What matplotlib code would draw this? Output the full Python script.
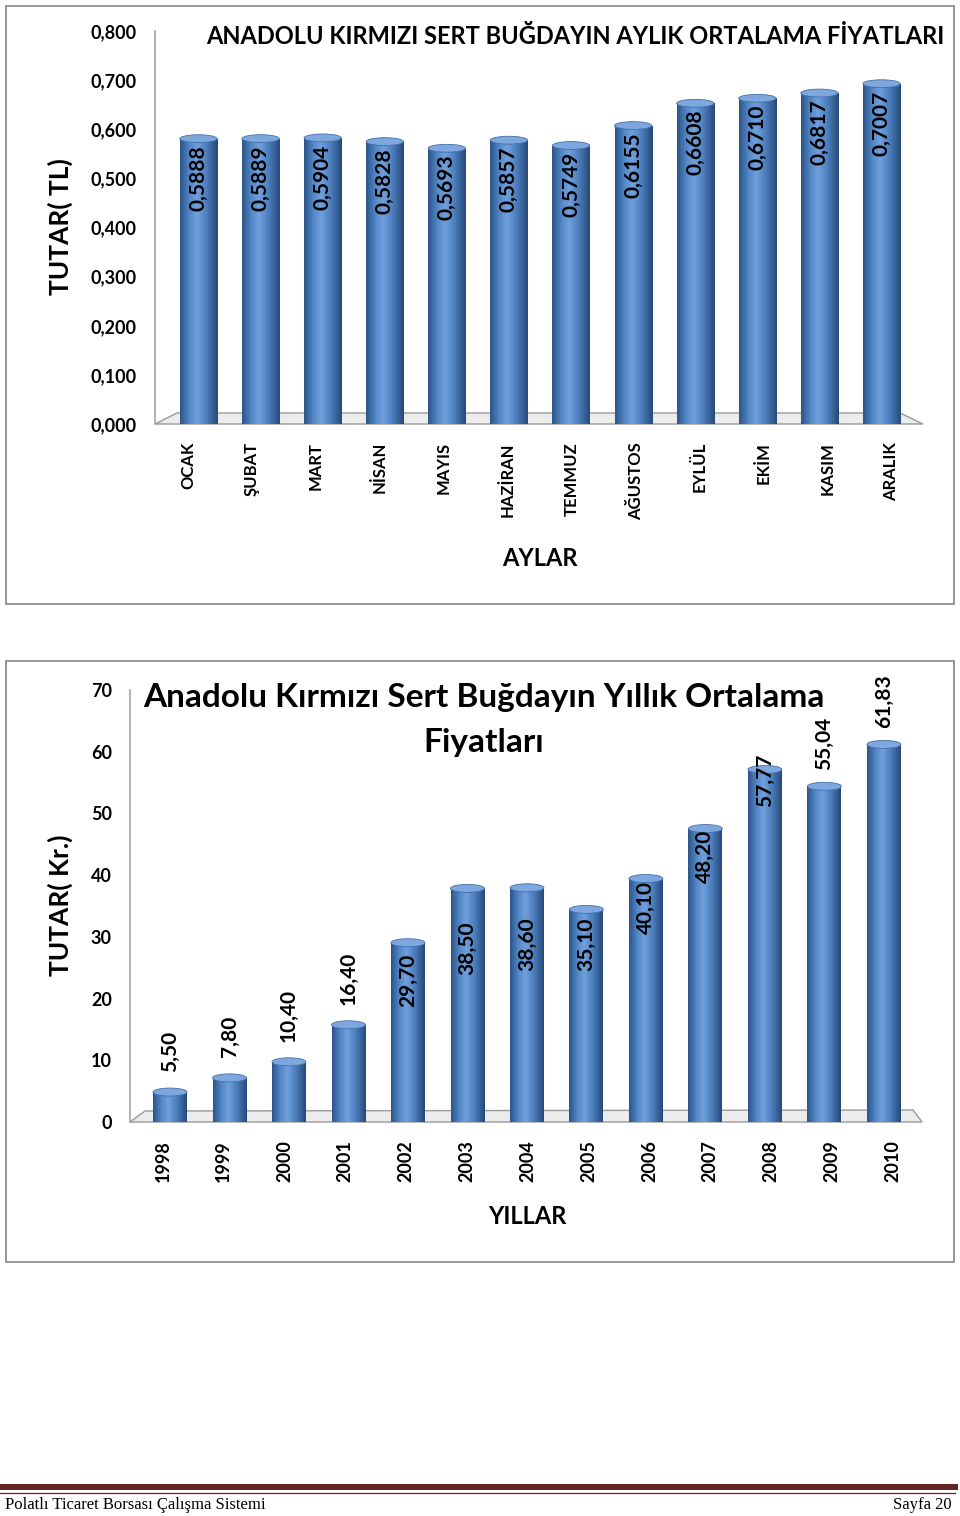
import matplotlib
import numpy as np

matplotlib.use("Agg")
import matplotlib.pyplot as plt
from matplotlib.colors import LinearSegmentedColormap
from matplotlib.lines import Line2D
from matplotlib.patches import Ellipse, Polygon, Rectangle

plt.rcParams["font.family"] = ["Lato", "DejaVu Sans"]

# --- veriler ---
aylar = ["OCAK", "ŞUBAT", "MART", "NİSAN", "MAYIS", "HAZİRAN",
         "TEMMUZ", "AĞUSTOS", "EYLÜL", "EKİM", "KASIM", "ARALIK"]
aylik_fiyat = [0.5888, 0.5889, 0.5904, 0.5828, 0.5693, 0.5857,
               0.5749, 0.6155, 0.6608, 0.6710, 0.6817, 0.7007]

yillar = ["1998", "1999", "2000", "2001", "2002", "2003", "2004",
          "2005", "2006", "2007", "2008", "2009", "2010"]
yillik_fiyat = [5.50, 7.80, 10.40, 16.40, 29.70, 38.50, 38.60,
                35.10, 40.10, 48.20, 57.77, 55.04, 61.83]

# etiketlerin çubuk tepesine göre kayması (veri birimi, yerleşim ayarı)
yillik_etiket_kayma = [6.0, 6.0, 6.9, 6.8, -6.8, -10.3, -9.8,
                       -6.3, -5.4, -5.1, -2.4, 6.3, 6.3]

W, H = 960, 1516
SILINDIR = LinearSegmentedColormap.from_list(
    "silindir", [(0.0, "#2d5588"), (0.25, "#5388c8"), (0.45, "#71a0dc"),
                 (0.7, "#4c7fbf"), (1.0, "#274a78")])
GRAD = np.linspace(0, 1, 64).reshape(1, -1)


def fx(px):
    return px / W


def fy(py):
    return 1 - py / H


def silindirler(ax, x, degerler, genislik, kapak):
    ust = np.asarray(degerler) - kapak / 2
    bars = ax.bar(x, ust, genislik, color="#4f81bd", zorder=3)
    for xi, b, h in zip(x, bars, ust):
        im = ax.imshow(GRAD, extent=(xi - genislik / 2, xi + genislik / 2, 0, h),
                       cmap=SILINDIR, aspect="auto", zorder=3.5)
        im.set_clip_path(b)
        ax.add_patch(Ellipse((xi, h), genislik, kapak, fc="#7ea8dd",
                             ec="#4070ab", lw=0.6, zorder=4))


def zemin(ax, noktalar):
    ax.add_patch(Polygon(noktalar, closed=True, transform=ax.transAxes,
                         fc="#ececec", ec="#9a9a9a", lw=1.0, zorder=1,
                         clip_on=False))


def eksen_stili(ax):
    for s in ["top", "right", "bottom"]:
        ax.spines[s].set_visible(False)
    ax.spines["left"].set_color("#a6a6a6")
    ax.spines["left"].set_linewidth(1.2)
    ax.tick_params(length=0)


fig = plt.figure(figsize=(W / 100, H / 100), dpi=100)

# çerçeveler
for y0, y1 in [(6, 604), (661, 1262)]:
    fig.add_artist(Rectangle((fx(6), fy(y1)), fx(948), (y1 - y0) / H,
                             transform=fig.transFigure, fill=False,
                             ec="#8d8d8d", lw=1.3))

# --- 1. grafik: aylık ---
ax1 = fig.add_axes([fx(155), fy(424), fx(770), 393 / H])
x1 = np.arange(len(aylar))
silindirler(ax1, x1, aylik_fiyat, 0.6, 0.016)
ax1.set_xlim(-0.70, 11.70)
ax1.set_ylim(0, 0.8)
ax1.set_yticks(np.arange(0, 0.81, 0.1))
ax1.set_yticklabels([f"{v:.3f}".replace(".", ",") for v in np.arange(0, 0.81, 0.1)],
                    fontsize=13, fontweight="bold")
ax1.set_xticks(x1 * 1.03 - 0.17)
ax1.set_xticklabels(aylar, rotation=90, fontsize=12, fontweight="bold", va="top")
ax1.tick_params(axis="y", pad=13)
ax1.tick_params(axis="x", pad=13)
eksen_stili(ax1)
zemin(ax1, [(0, 0), (22 / 770, 11 / 393), (745 / 770, 11 / 393), (768 / 770, 0)])
for xi, v in zip(x1, aylik_fiyat):
    ax1.text(xi, v - 0.088, f"{v:.4f}".replace(".", ","), rotation=90,
             ha="center", va="center", fontsize=15, fontweight="bold", zorder=5)

fig.text(fx(575), fy(37), "ANADOLU KIRMIZI SERT BUĞDAYIN AYLIK ORTALAMA FİYATLARI",
         ha="center", va="center", fontsize=17, fontweight="bold")
fig.text(fx(60), fy(227), "TUTAR( TL)", rotation=90, ha="center", va="center",
         fontsize=19, fontweight="bold")
fig.text(fx(540), fy(558), "AYLAR", ha="center", va="center",
         fontsize=17, fontweight="bold")

# --- 2. grafik: yıllık ---
ax2 = fig.add_axes([fx(130), fy(1122), fx(792), 432 / H])
x2 = np.arange(len(yillar))
silindirler(ax2, x2, yillik_fiyat, 0.57, 1.3)
ax2.set_xlim(-0.672, 12.64)
ax2.set_ylim(0, 70)
ax2.set_yticks(np.arange(0, 71, 10))
ax2.set_yticklabels([str(v) for v in range(0, 71, 10)],
                    fontsize=13, fontweight="bold")
ax2.set_xticks(x2 * 1.022 - 0.118)
ax2.set_xticklabels(yillar, rotation=90, fontsize=13, fontweight="bold", va="top")
ax2.tick_params(axis="y", pad=13)
ax2.tick_params(axis="x", pad=13)
eksen_stili(ax2)
zemin(ax2, [(0, 0), (15 / 792, 11 / 432), (783 / 792, 12 / 432), (792 / 792, 0)])
for xi, v, k in zip(x2, yillik_fiyat, yillik_etiket_kayma):
    ax2.text(xi, v + k, f"{v:.2f}".replace(".", ","), rotation=90,
             ha="center", va="center", fontsize=15, fontweight="bold", zorder=5,
             clip_on=False)

fig.text(fx(484), fy(698), "Anadolu Kırmızı Sert Buğdayın Yıllık Ortalama",
         ha="center", va="center", fontsize=24, fontweight="bold")
fig.text(fx(484), fy(742), "Fiyatları", ha="center", va="center",
         fontsize=24, fontweight="bold")
fig.text(fx(60), fy(905), "TUTAR( Kr.)", rotation=90, ha="center", va="center",
         fontsize=19, fontweight="bold")
fig.text(fx(527), fy(1217), "YILLAR", ha="center", va="center",
         fontsize=17, fontweight="bold")

# --- sayfa altlığı ---
fig.add_artist(Line2D([0, fx(955)], [fy(1487)] * 2, color="#622423", lw=4.3,
                      transform=fig.transFigure))
fig.add_artist(Line2D([0, fx(955)], [fy(1492.5)] * 2, color="#622423", lw=0.9,
                      transform=fig.transFigure))
fig.text(fx(5), fy(1505), "Polatlı Ticaret Borsası Çalışma Sistemi",
         ha="left", va="center", fontsize=12, family="Liberation Serif")
fig.text(fx(952), fy(1505), "Sayfa 20", ha="right", va="center",
         fontsize=12, family="Liberation Serif")

fig.savefig("out.png", dpi=100, facecolor="white")
